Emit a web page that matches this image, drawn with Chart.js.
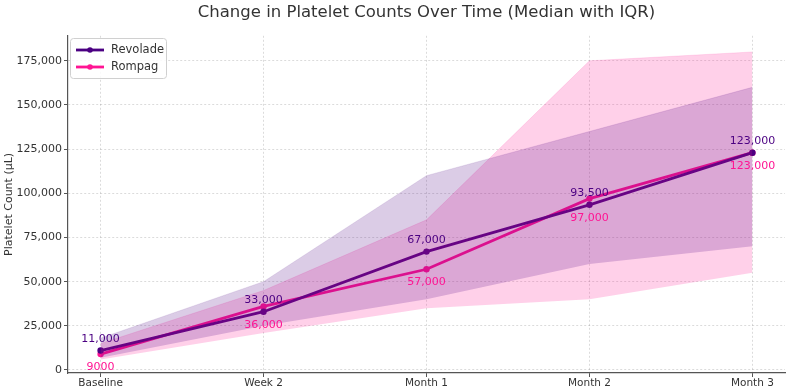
<!DOCTYPE html>
<html>
<head>
<meta charset="utf-8">
<script src="https://cdn.jsdelivr.net/npm/chart.js@4.4.1/dist/chart.umd.min.js"></script>
<style>
  html, body { margin: 0; padding: 0; background: #fff; }
  #wrap { width: 789px; height: 387px; }
</style>
</head>
<body>
<div id="wrap"><canvas id="platelet-chart" width="789" height="387"></canvas></div>
<script>
// data
const categories = ['Baseline', 'Week 2', 'Month 1', 'Month 2', 'Month 3'];
const revoladeMedian = [11000, 33000, 67000, 93500, 123000];
const revoladeQ1 = [7000, 25000, 40000, 60000, 70000];
const revoladeQ3 = [18000, 50000, 110000, 135000, 160000];
const rompagMedian = [9000, 36000, 57000, 97000, 123000];
const rompagQ1 = [6000, 21000, 35000, 40000, 55000];
const rompagQ3 = [15000, 45000, 85000, 175000, 180000];
const yTicks = [0, 25000, 50000, 75000, 100000, 125000, 150000, 175000];

const purple = '#4B0082';
const pink = '#FF1493';
const font = 'DejaVu Sans';

const pts = arr => arr.map((v, i) => ({x: i, y: v}));
const fmt = v => v < 10000 ? String(v) : v.toLocaleString('en-US');

// median value labels + legend box in the upper left
const annotate = {
    id: 'annotate',
    afterDatasetsDraw(chart) {
        const ctx = chart.ctx;
        const xs = chart.scales.x, ys = chart.scales.y;
        ctx.save();
        ctx.font = '11px "' + font + '"';
        ctx.textAlign = 'center';
        ctx.textBaseline = 'middle';
        categories.forEach((c, i) => {
            const px = xs.getPixelForValue(i);
            ctx.fillStyle = purple;
            ctx.fillText(fmt(revoladeMedian[i]), px, ys.getPixelForValue(revoladeMedian[i]) - 11.5);
            const low = Math.min(revoladeMedian[i], rompagMedian[i]);
            ctx.fillStyle = pink;
            ctx.fillText(fmt(rompagMedian[i]), px, ys.getPixelForValue(low) + 13);
        });

        // legend
        const bx = 70.5, by = 38.5, bw = 96, bh = 40;
        ctx.fillStyle = 'rgba(255,255,255,0.85)';
        ctx.strokeStyle = '#d0d0d0';
        ctx.lineWidth = 1;
        ctx.beginPath();
        ctx.roundRect(bx, by, bw, bh, 3);
        ctx.fill();
        ctx.stroke();
        [['Revolade', purple, 50], ['Rompag', pink, 67]].forEach(([name, col, y]) => {
            ctx.strokeStyle = col;
            ctx.lineWidth = 2.8;
            ctx.beginPath();
            ctx.moveTo(76, y);
            ctx.lineTo(104, y);
            ctx.stroke();
            ctx.fillStyle = col;
            ctx.beginPath();
            ctx.arc(90, y, 2.8, 0, Math.PI * 2);
            ctx.fill();
            ctx.fillStyle = '#333';
            ctx.textAlign = 'left';
            ctx.font = '11.5px "' + font + '"';
            ctx.fillText(name, 111, y);
        });
        ctx.restore();
    }
};

const config = {
    type: 'line',
    data: {
        datasets: [
            {label: 'Revolade Q1', data: pts(revoladeQ1), borderWidth: 0, pointRadius: 0, fill: false},
            {label: 'Revolade Q3', data: pts(revoladeQ3), borderWidth: 0.6, borderColor: 'rgba(75,0,130,0.2)',
             pointRadius: 0, fill: '-1', backgroundColor: 'rgba(75,0,130,0.2)'},
            {label: 'Rompag Q1', data: pts(rompagQ1), borderWidth: 0, pointRadius: 0, fill: false},
            {label: 'Rompag Q3', data: pts(rompagQ3), borderWidth: 0.6, borderColor: 'rgba(255,20,147,0.2)',
             pointRadius: 0, fill: '-1', backgroundColor: 'rgba(255,20,147,0.2)'},
            {label: 'Revolade', data: pts(revoladeMedian), borderColor: purple, backgroundColor: purple,
             borderWidth: 2.8, pointRadius: 3.2, pointBorderWidth: 0, pointHoverRadius: 3.2, fill: false},
            {label: 'Rompag', data: pts(rompagMedian), borderColor: pink, backgroundColor: pink,
             borderWidth: 2.8, pointRadius: 3.2, pointBorderWidth: 0, pointHoverRadius: 3.2, fill: false},
        ]
    },
    options: {
        responsive: false,
        animation: false,
        events: [],
        layout: {padding: {left: 0, right: 4, top: 0, bottom: 0}},
        plugins: {
            legend: {display: false},
            tooltip: {enabled: false},
            title: {
                display: true,
                fullSize: false,
                text: 'Change in Platelet Counts Over Time (Median with IQR)',
                color: '#333',
                font: {family: font, size: 16.5, weight: 'normal'},
                padding: {top: 3, bottom: 13}
            }
        },
        scales: {
            x: {
                type: 'linear',
                min: -0.2,
                max: 4.2,
                afterBuildTicks: s => { s.ticks = categories.map((c, i) => ({value: i})); },
                afterFit: s => { s.height = 14; },
                ticks: {
                    callback: v => categories[v],
                    color: '#333',
                    font: {family: font, size: 10.5},
                    padding: 0,
                    maxRotation: 0
                },
                grid: {color: 'rgba(0,0,0,0.14)', drawTicks: true, tickLength: 4,
                       tickColor: '#555', tickBorderDash: [], tickWidth: 1},
                border: {display: true, color: '#555', width: 1.2, dash: [2, 2]}
            },
            y: {
                min: -1700,
                max: 189150,
                afterBuildTicks: s => { s.ticks = yTicks.map(v => ({value: v})); },
                afterFit: s => { s.width = 68; },
                ticks: {
                    callback: v => v.toLocaleString('en-US'),
                    color: '#333',
                    font: {family: font, size: 11},
                    padding: 2
                },
                title: {
                    display: true,
                    text: 'Platelet Count (µL)',
                    color: '#333',
                    font: {family: font, size: 11},
                    padding: {top: 3, bottom: 0}
                },
                grid: {color: 'rgba(0,0,0,0.14)', drawTicks: true, tickLength: 4,
                       tickColor: '#555', tickBorderDash: [], tickWidth: 1},
                border: {display: true, color: '#555', width: 1.2, dash: [2, 2]}
            }
        }
    },
    plugins: [annotate]
};

new Chart(document.getElementById('platelet-chart'), config);
</script>
</body>
</html>
